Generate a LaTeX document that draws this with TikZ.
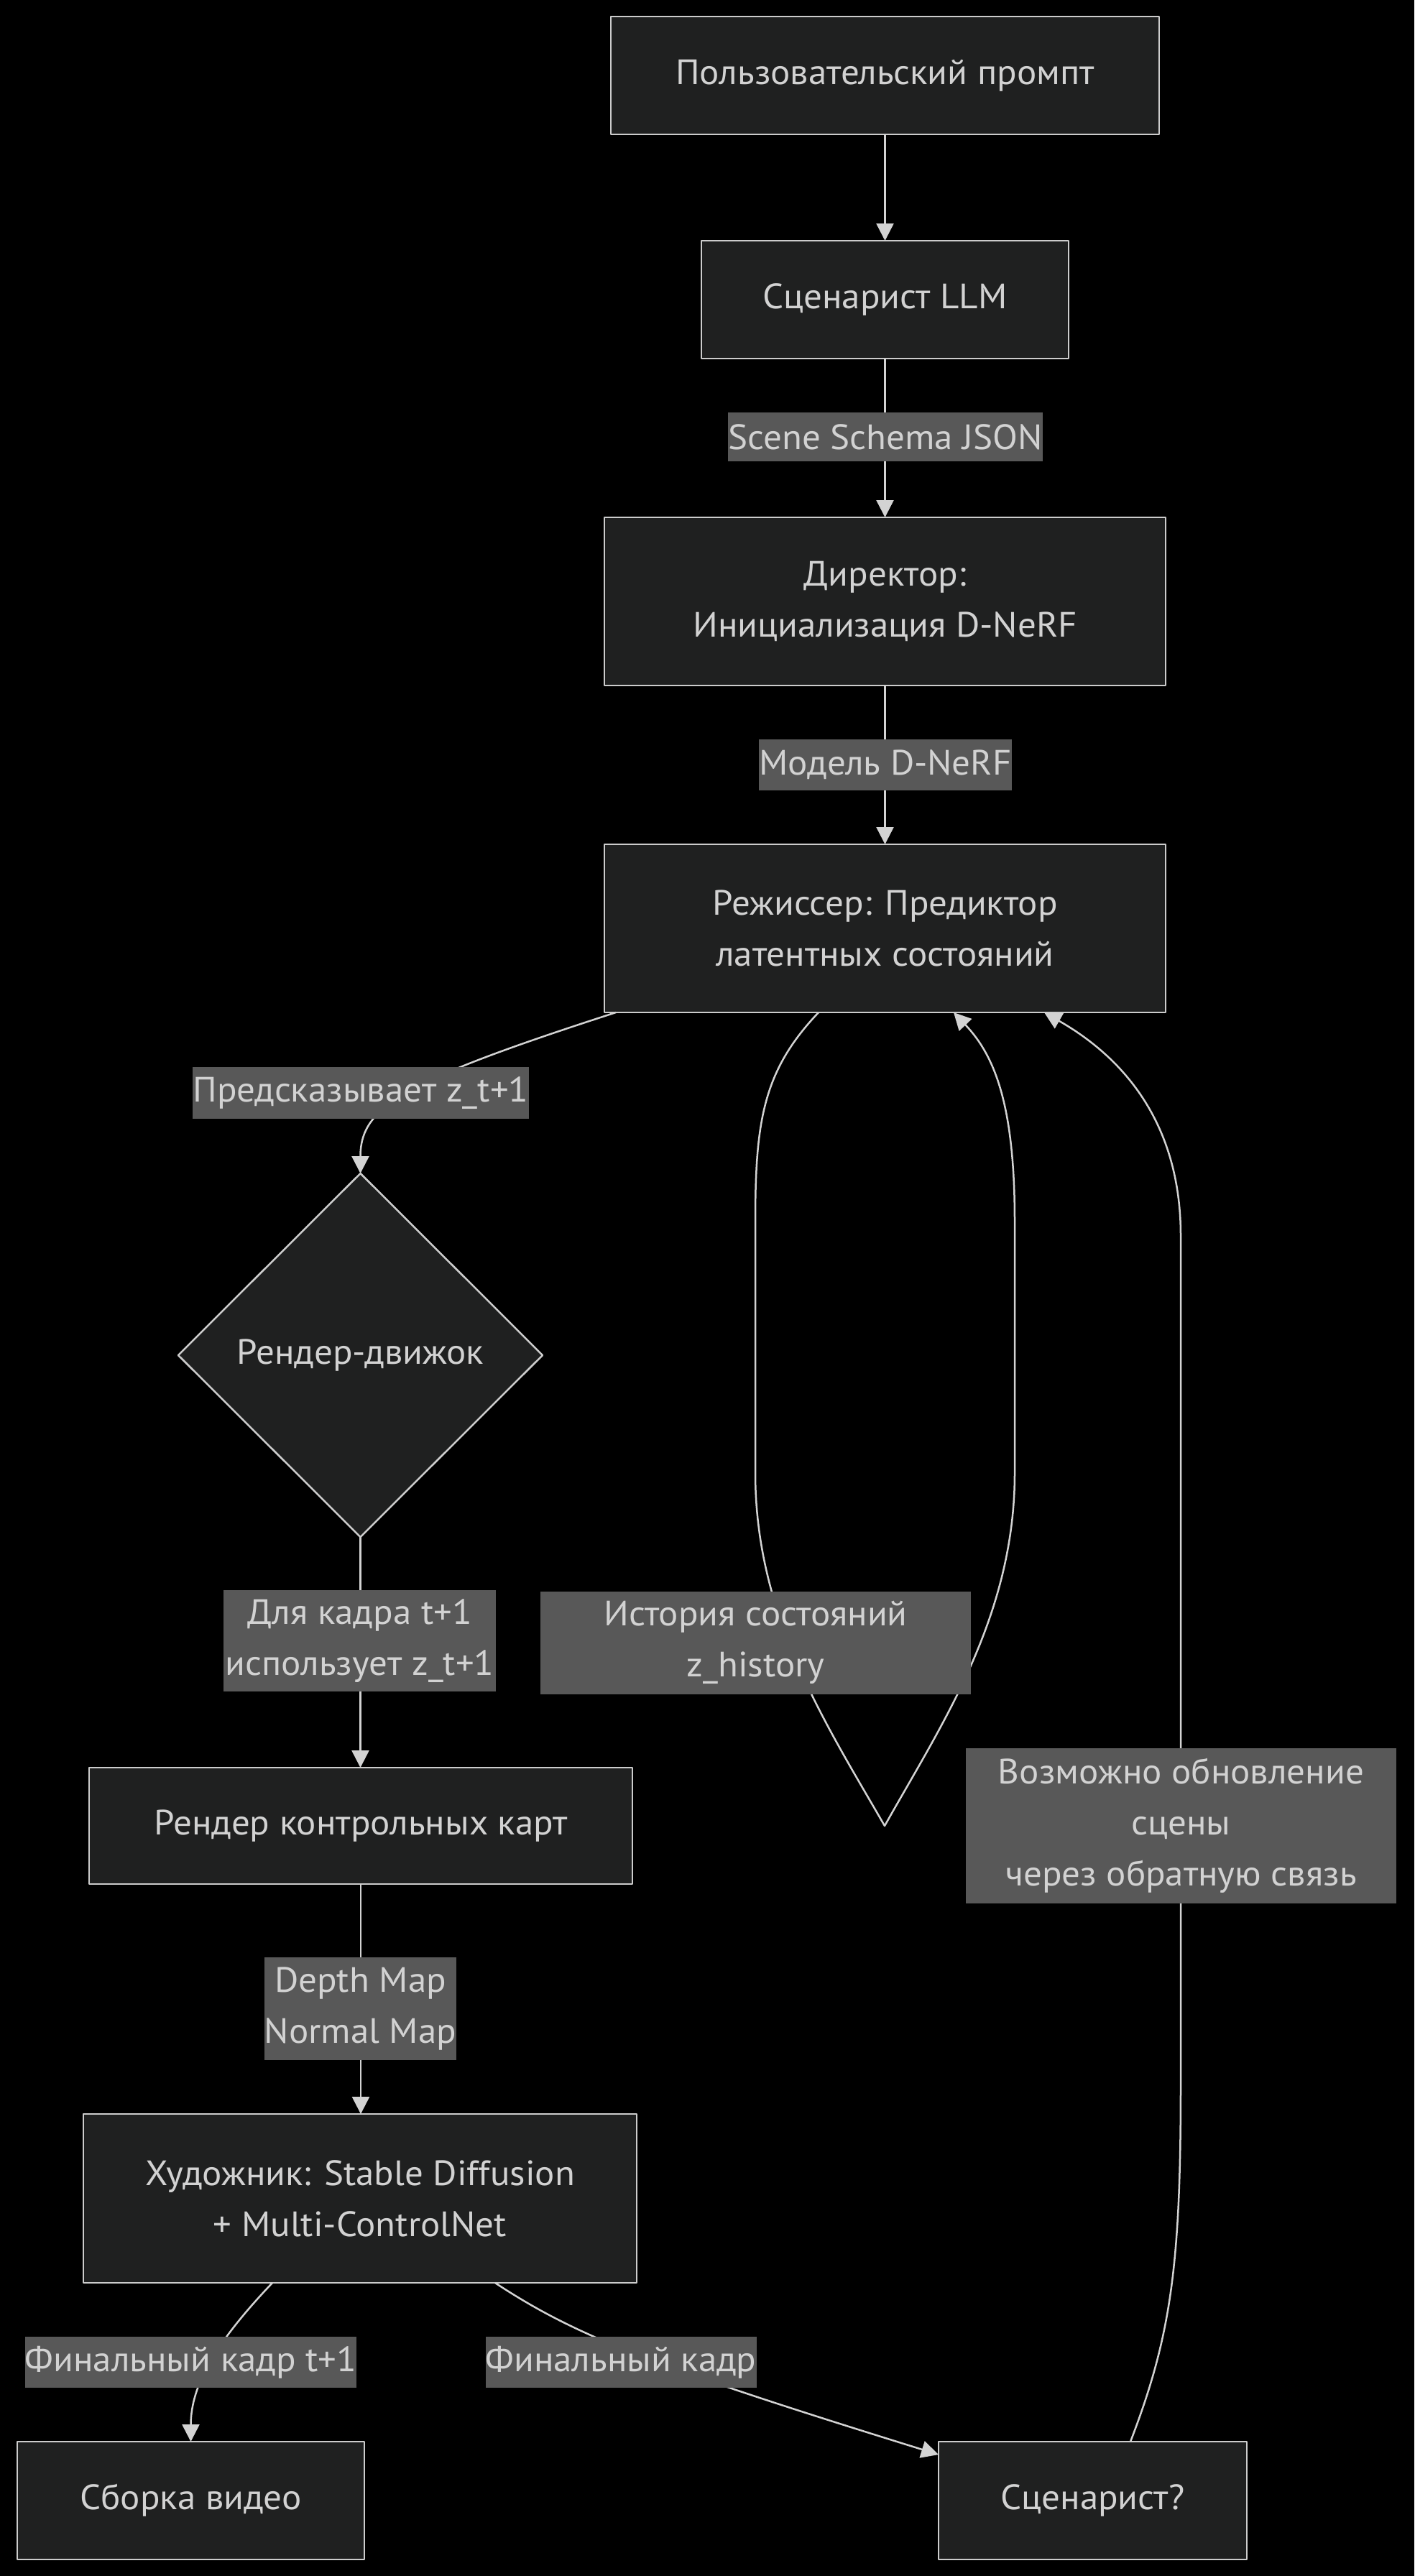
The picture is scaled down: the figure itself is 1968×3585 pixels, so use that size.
\documentclass[tikz,border=0pt]{standalone}
\usepackage{fontspec}
\setmainfont[FakeStretch=1.04]{PT Sans}
\usetikzlibrary{shapes.geometric,arrows.meta}
\definecolor{nodefill}{HTML}{1F2020}
\definecolor{nodeline}{HTML}{CCCCCC}
\definecolor{txt}{HTML}{D2D2D2}
\definecolor{lblfill}{HTML}{585858}
\definecolor{edgecol}{HTML}{D3D3D3}
\begin{document}
\begin{tikzpicture}[x=1pt,y=-1pt,line join=round,
  every node/.style={font=\fontsize{49}{71}\selectfont, text=txt, align=center, inner sep=0pt, outer sep=0pt},
  box/.style 2 args={draw=nodeline, line width=2.5pt, fill=nodefill, minimum width=#1pt, minimum height=#2pt},
  lbl/.style 2 args={fill=lblfill, minimum width=#1pt, minimum height=#2pt},
  link/.style={draw=edgecol, line width=2.5pt, -{Triangle[length=24pt,width=24pt]}},
]
% canvas
\fill[black] (0,0) rectangle (1968,3585);
\useasboundingbox (0,0) rectangle (1968,3585);

% pipeline stages
\node[box={763}{164}] (prompt) at (1231.5,105) {Пользовательский промпт};
\node[box={511}{164}] (llm) at (1231.5,417) {Сценарист LLM};
\node[box={781}{234}] (dir) at (1231.5,837) {Директор:\\Инициализация D-NeRF};
\node[box={781}{234}] (rez) at (1231.5,1292) {Режиссер: Предиктор\\ латентных состояний};
\node[diamond, draw=nodeline, line width=2.5pt, fill=nodefill, minimum width=507pt, minimum height=506pt] (engine) at (501.5,1886) {Рендер-движок};
\node[box={756}{162}] (maps) at (502,2541) {Рендер контрольных карт};
\node[box={770}{235}] (artist) at (501,3059.5) {Художник: Stable Diffusion\\+ Multi-ControlNet};
\node[box={483}{164}] (video) at (265.5,3480) {Сборка видео};
\node[box={429}{164}] (check) at (1520.5,3480) {Сценарист?};

% connectors
\draw[link] (prompt.south) -- (llm.north);
\draw[link] (llm.south) -- (dir.north);
\draw[link] (dir.south) -- (rez.north);
\draw[link] ([xshift=16pt]rez.south west) .. controls (560,1505) and (501.5,1540) .. (engine.north);
\draw[link] (engine.south) -- (engine.south |- maps.north);
\draw[link] (maps.south) -- (maps.south |- artist.north);
\draw[link] ([xshift=298pt]rez.south west) .. controls (1062,1490) and (1051,1560) .. (1051,1700)
  -- (1051,2050) .. controls (1051,2250) and (1150,2400) .. (1231,2541)
  .. controls (1310,2400) and (1412,2250) .. (1412,2050) -- (1412,1700)
  .. controls (1412,1540) and (1385,1470) .. ([xshift=486pt]rez.south west);
\draw[link] ([xshift=263pt]artist.south west) .. controls (300,3260) and (265.5,3320) .. (video.north);
\draw[link] ([xshift=573pt]artist.south west) .. controls (800,3250) and (900,3290) .. ([yshift=-18pt]check.north west);
\draw[link] ([xshift=267pt]check.north west) .. controls (1630,3250) and (1643,3150) .. (1643,2900)
  -- (1643,1720) .. controls (1643,1560) and (1560,1470) .. ([xshift=612pt]rez.south west);

% connector labels
\node[lbl={430}{68}] (l1) at (1232,608) {Scene Schema JSON};
\node[lbl={338}{71}] (l2) at (1232,1064.5) {Модель D-NeRF};
\node[lbl={468}{72}] (l3) at (502,1521) {Предсказывает z\_t+1};
\node[lbl={379}{141}] (l4) at (500.5,2283.5) {Для кадра t+1\\использует z\_t+1};
\node[lbl={599}{143}] (l5) at (1051.5,2286) {История состояний\\z\_history};
\node[lbl={599}{216}] (l6) at (1643.5,2541) {Возможно обновление\\сцены\\ через обратную связь};
\node[lbl={255}{143}] (l7) at (501.5,2795.5) {Depth Map\\Normal Map};
\node[lbl={455}{71}] (l8) at (265.5,3287.5) {Финальный кадр t+1};
\node[lbl={370}{71}] (l9) at (864,3287.5) {Финальный кадр};
\end{tikzpicture}
\end{document}
